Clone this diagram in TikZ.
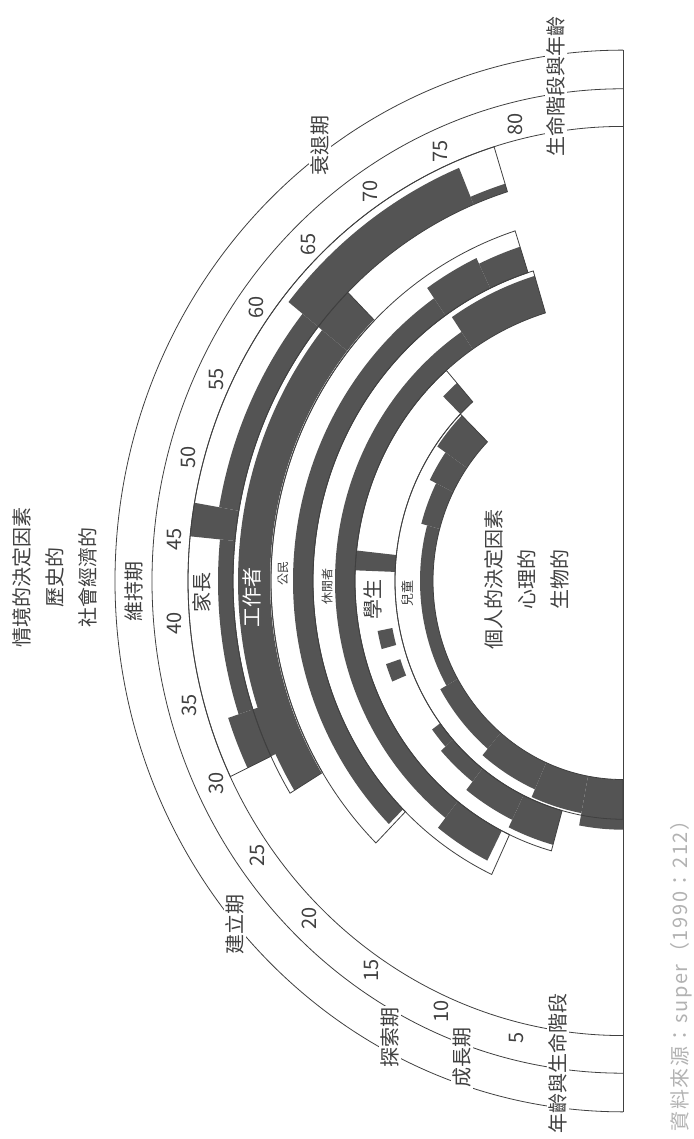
\documentclass[tikz,border=0pt]{standalone}
\usepackage{fontspec}
\setmainfont{Noto Sans CJK TC}
\colorlet{ink}{black!75}
\colorlet{darkfill}{black!67}
\colorlet{srcgray}{black!30}
\tikzset{
  arcline/.style={draw=ink, line width=0.8pt},
  lab/.style={text=ink, rotate=90, inner sep=1.5pt, fill=white, font=\fontsize{20}{33}\selectfont, align=center},
  num/.style={text=ink, rotate=90, inner sep=0pt, font=\fontsize{20}{22}\selectfont},
  role/.style={text=ink, rotate=90, inner sep=0pt, font=\fontsize{20}{22}\selectfont},
  smallrole/.style={text=ink, rotate=90, inner sep=0pt, font=\fontsize{12}{14}\selectfont},
  src/.style={text=srcgray, rotate=90, inner sep=0pt, font=\fontsize{20}{22}\selectfont\addfontfeatures{LetterSpace=8}}
}
\newcommand{\ag}[1]{266.5-2.034*(#1)}
\newcommand{\rsec}[5][darkfill]{\fill[#1] ({\ag{#2}}:#4) arc[start angle={\ag{#2}}, end angle={\ag{#3}}, radius=#4] -- ({\ag{#3}}:#5) arc[start angle={\ag{#3}}, end angle={\ag{#2}}, radius=#5] -- cycle;}
\newcommand{\rbox}[4]{\draw[arcline] ({\ag{#1}}:#3) arc[start angle={\ag{#1}}, end angle={\ag{#2}}, radius=#3] -- ({\ag{#2}}:#4) arc[start angle={\ag{#2}}, end angle={\ag{#1}}, radius=#4] -- cycle;}
\begin{document}
\begin{tikzpicture}[x=1pt,y=1pt]
\useasboundingbox (0,0) rectangle (693,1139);
\fill[white] (0,0) rectangle (693,1139);
\begin{scope}[shift={(623,558)}, yscale=1.045]
  % child
  \rsec{-1.72}{3.5}{190}{238}
  \rsec{3.5}{10}{190}{226}
  \rsec{10}{18}{190}{218}
  \rsec{18}{28}{190}{210}
  \rsec{28}{50}{190}{203}
  \rsec{50}{55.6}{190}{209}
  \rsec{55.6}{59.6}{190}{216}
  \rsec{59.6}{64.4}{190}{226}
  % student
  \rsec{5.9}{11}{228}{262}
  \rsec{11}{17}{228}{254}
  \rsec{17}{22}{228}{244}
  \rsec{22}{24.5}{228}{238}
  \rsec{31.4}{33.4}{235}{250}
  \rsec{35.1}{37.1}{235}{250}
  \rsec{43.6}{45.6}{228}{268}
  \rsec{64.4}{66.5}{228}{252}
  % leisure
  \rsec{11.5}{17}{268}{300}
  \rsec{17}{70}{268}{288}
  \rsec{70}{78.5}{268}{305}
  % citizen
  \rsec{20.5}{69.6}{310}{330}
  \rsec{69.6}{74.3}{310}{342}
  \rsec{74.3}{78}{310}{336}
  % worker
  \rsec{27.1}{61.5}{353}{385}
  \rsec{61.5}{64.7}{353}{390}
  % homemaker
  \rsec{30}{33.5}{384}{416}
  \rsec{33.5}{45.3}{390}{405}
  \rsec{45.3}{47.4}{390}{435}
  \rsec{47.4}{61.5}{390}{410}
  \rsec{61.5}{75.7}{390}{428}
  \rsec{75.7}{78.3}{390}{398}
  % outlines of role bands
  \rbox{30}{78.3}{390}{435}
  \rbox{27.1}{64.7}{352}{390}
  \rbox{20.2}{78}{310}{352}
  \rbox{10.6}{78.5}{268}{310}
  \rbox{5.9}{66.5}{228}{268}
  \rbox{-1.72}{64.4}{190}{228}
  % outer arcs and base line
  \draw[arcline] (90:508) arc[start angle=90, end angle=270, radius=508];
  \draw[arcline] (90:471) arc[start angle=90, end angle=270, radius=471];
  \draw[arcline] (90:435) arc[start angle=90, end angle=270, radius=435];
  \draw[arcline] (90:508) -- (270:508);
  % ages
  \foreach \a in {5,10,...,80} {\node[num] (age\a) at ({\ag{\a}}:450) {\a};}
\end{scope}
% stage labels
\node[lab] (decline) at (320,993) {衰退期};
\node[lab] (maint) at (134,547) {維持期};
\node[lab] (estab) at (235,214) {建立期};
\node[lab] (explore) at (390,101) {探索期};
\node[lab] (growth) at (462,81) {成長期};
\node[lab] (agesL) at (558,75) {年齡與生命階段};
\node[lab] (agesR) at (556,1052) {生命階段與年齡};
% role labels
\node[role] (homemaker) at (202,546) {家長};
\node[role, text=white] (worker) at (252,541) {工作者};
\node[smallrole] (citizen) at (283,565) {公民};
\node[smallrole] (leisure) at (327,552) {休閒者};
\node[role] (student) at (373,539) {學生};
\node[smallrole, font=\fontsize{13}{15}\selectfont] (child) at (407,545) {兒童};
% determinants
\node[lab] (situ) at (55,561) {情境的決定因素\\歷史的\\社會經濟的};
\node[lab] (pers) at (527,559) {個人的決定因素\\心理的\\生物的};
% source
\node[src] (source) at (681,168) {資料來源：super（1990：212）};
\end{tikzpicture}
\end{document}
